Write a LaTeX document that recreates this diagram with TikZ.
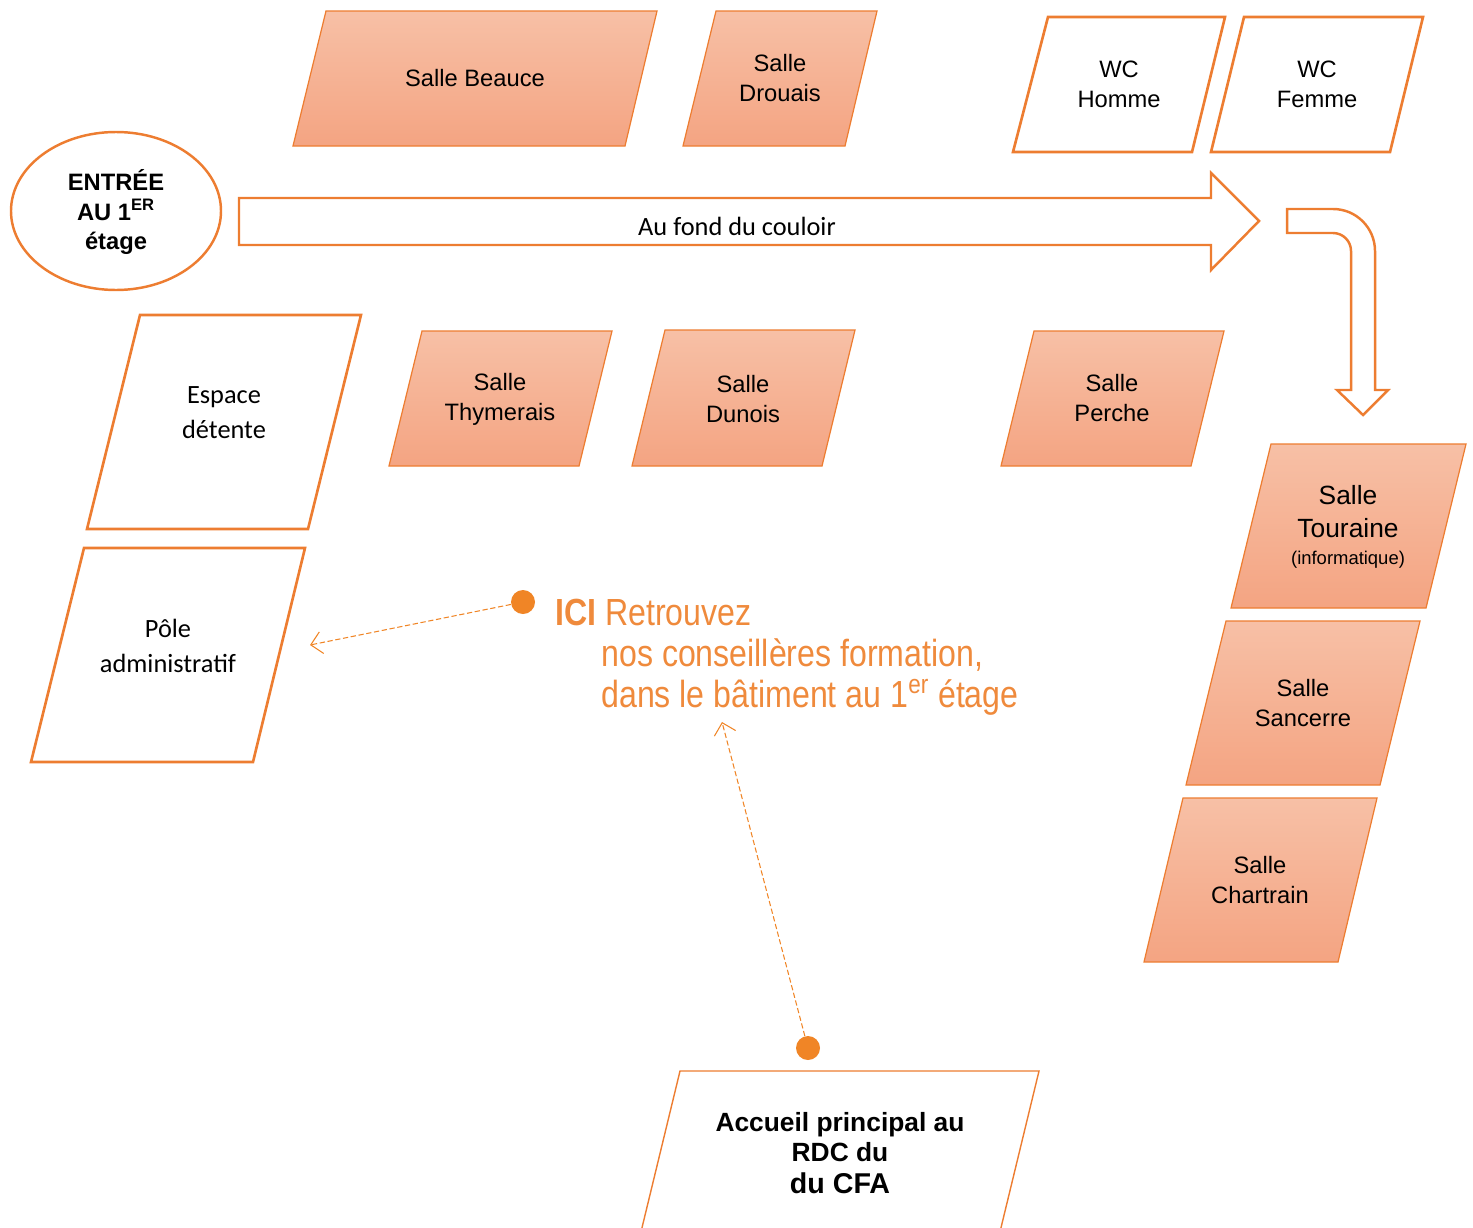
\documentclass[tikz,border=0pt]{standalone}
\usepackage{fontspec}
\setmainfont{Liberation Sans}
\newfontfamily\calibri{Carlito}
\newfontfamily\etroite[FakeStretch=0.85]{Liberation Sans}
\usetikzlibrary{arrows.meta}
\definecolor{orangeB}{HTML}{ED7D31}
\definecolor{orangeP}{HTML}{F08526}
\definecolor{texteO}{HTML}{EF8A3C}
\definecolor{salleHaut}{HTML}{F7C0A6}
\definecolor{salleBas}{HTML}{F4A482}
\begin{document}
\begin{tikzpicture}[x=0.02cm,y=-0.02cm,
  salle/.style={draw=orangeB,line width=0.7pt,top color=salleHaut,bottom color=salleBas},
  blanc/.style={draw=orangeB,line width=1.5pt,fill=white},
  fleche/.style={draw=orangeB,line width=1.4pt,fill=white},
  lbl/.style={align=center,inner sep=0pt,font=\fontsize{13.5}{17}\selectfont},
  lblc/.style={align=center,inner sep=0pt,font=\calibri\fontsize{15}{20}\selectfont},
  lblo/.style={anchor=base west,inner sep=0pt,text=texteO,font=\etroite\fontsize{21.5}{23}\selectfont},
  point/.style={circle,fill=orangeP,inner sep=0pt,minimum size=0.48cm},
  pointille/.style={draw=orangeP,line width=0.6pt,dash pattern=on 3pt off 1.5pt,
    -{Straight Barb[length=2.2mm,width=4.4mm]}}]
  \useasboundingbox (0,0) rectangle (1473,1227);
  \clip (0,0) rectangle (1473,1227);

  % salles du haut
  \draw[salle] (326,11) -- (657,11) -- (625,146) -- (293,146) -- cycle;
  \node[lbl] (beauce) at (475,78) {Salle Beauce};
  \draw[salle] (716,11) -- (877,11) -- (845,146) -- (683,146) -- cycle;
  \node[lbl] (drouais) at (780,78) {Salle\\Drouais};
  \draw[blanc] (1048,17) -- (1225,17) -- (1192,152) -- (1013,152) -- cycle;
  \node[lbl] (wch) at (1119,84) {WC\\Homme};
  \draw[blanc] (1244,17) -- (1423,17) -- (1390,152) -- (1211,152) -- cycle;
  \node[lbl] (wcf) at (1317,84) {WC\\Femme};

  % entree et couloir
  \draw[orangeB,line width=1.4pt] (116,211) ellipse [x radius=105,y radius=79];
  \node[lbl,font=\bfseries\fontsize{13.5}{17}\selectfont] (entree) at (116,212)
    {ENTRÉE\\AU 1\textsuperscript{ER}\\étage};
  \draw[fleche] (239,198) -- (1211,198) -- (1211,173) -- (1259,221) -- (1211,270)
    -- (1211,245) -- (239,245) -- cycle;
  \node[lblc] (couloir) at (737,226) {Au fond du couloir};
  \draw[fleche] (1287,209) -- (1333,209) arc[start angle=-90,end angle=0,radius=42]
    -- (1375,390) -- (1388,390) -- (1363,415) -- (1337,390) -- (1351,390)
    -- (1351,251) arc[start angle=0,end angle=-90,radius=18] -- (1287,233) -- cycle;

  % cote gauche
  \draw[blanc] (140,315) -- (361,315) -- (308,529) -- (87,529) -- cycle;
  \node[lblc] (detente) at (224,413) {Espace\\détente};
  \draw[blanc] (84,548) -- (305,548) -- (253,762) -- (31,762) -- cycle;
  \node[lblc] (pole) at (168,646) {Pôle\\administratif};

  % salles du milieu
  \draw[salle] (422,331) -- (612,331) -- (579,466) -- (389,466) -- cycle;
  \node[lbl] (thymerais) at (500,399) {Salle\\Thymerais};
  \draw[salle] (665,330) -- (855,330) -- (822,466) -- (632,466) -- cycle;
  \node[lbl] (dunois) at (743,399) {Salle\\Dunois};
  \draw[salle] (1034,331) -- (1224,331) -- (1191,466) -- (1001,466) -- cycle;
  \node[lbl] (perche) at (1112,398) {Salle\\Perche};

  % salles de droite
  \draw[salle] (1271,444) -- (1466,444) -- (1426,608) -- (1231,608) -- cycle;
  \node[lbl,font=\fontsize{15}{18.7}\selectfont] (touraine) at (1348,527)
    {Salle\\Touraine\\[-3pt]{\fontsize{10.5}{13}\selectfont(informatique)}};
  \draw[salle] (1226,621) -- (1420,621) -- (1380,785) -- (1186,785) -- cycle;
  \node[lbl] (sancerre) at (1303,703) {Salle\\Sancerre};
  \draw[salle] (1183,798) -- (1377,798) -- (1338,962) -- (1144,962) -- cycle;
  \node[lbl] (chartrain) at (1260,880) {Salle\\Chartrain};

  % accueil
  \draw[draw=orangeB,line width=0.8pt,fill=white] (680,1071) -- (1039,1071)
    -- (998,1240) -- (639,1240) -- cycle;
  \node[lbl,font=\bfseries\fontsize{15}{17}\selectfont] (accueil) at (840,1153)
    {Accueil principal au\\RDC du\\[1.5pt]{\fontsize{16.3}{17}\selectfont du CFA}};

  % ici
  \node[point] (pici) at (523,602) {};
  \node[point] (paccueil) at (808,1048) {};
  \node[lblo] (ici) at (555,625) {\bfseries ICI \mdseries Retrouvez};
  \node[lblo] (ligneA) at (601,666) {nos conseillères formation,};
  \node[lblo] (ligneB) at (601,707) {dans le bâtiment au 1\textsuperscript{er} étage};
  \coordinate (versPole) at (310,645);
  \coordinate (versIci) at (722,722);
  \draw[pointille] (pici) -- (versPole);
  \draw[pointille] (paccueil) -- (versIci);
\end{tikzpicture}
\end{document}
